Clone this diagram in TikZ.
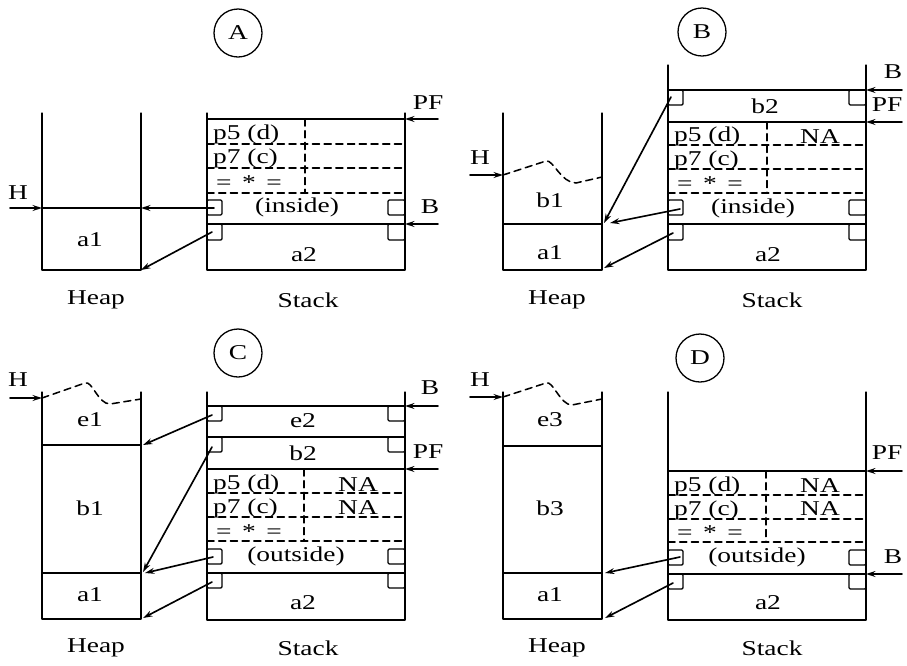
\documentclass[tikz,border=0pt]{standalone}
\usepackage{fontspec}
\setmainfont{Liberation Serif}[FakeStretch=1.3]
\usetikzlibrary{arrows.meta}
\tikzset{
  wall/.style={line width=1.1pt},
  row/.style={line width=1.6pt},
  sep/.style={line width=1.3pt, dash pattern=on 6pt off 4pt},
  ptr/.style={line width=1.4pt, -{Stealth[length=8pt,width=5pt]}},
  box/.style={line width=1.1pt, rounded corners=1pt},
  tag/.style={draw, circle, line width=1.1pt, minimum size=1.44cm, inner sep=0pt},
}
\begin{document}
\begin{tikzpicture}[x=.03cm, y=-.03cm, font=\fontsize{18}{21}\selectfont, line join=round, line cap=round]
\useasboundingbox (0,0) rectangle (907,665);
%% A
\node[tag] (tA) at (238,33) {A};
\draw[wall] (42,113) -- (42,270) -- (141,270) -- (141,113);
\draw[row] (42,208) -- (141,208);
\node (a1A) at (90,240) {a1};
\node (hpA) at (96,300) {Heap};
\draw[wall] (207,113) -- (207,270) -- (405,270) -- (405,113);
\draw[row] (207,119) -- (405,119) (207,224) -- (405,224);
\draw[sep] (207,144) -- (405,144) (207,168) -- (405,168) (207,193) -- (405,193) (305,119) -- (305,193);
\draw[box] (207,200) rectangle (222,215) (388,200) rectangle (405,215)
  (207,224) rectangle (222,240) (388,224) rectangle (405,240);
\node[anchor=west] (p5A) at (209,134) {p5 (d)};
\node[anchor=west] (p7A) at (209,158) {p7 (c)};
\node[anchor=west] (eqA) at (212,183) {=\enspace*\enspace=};
\node (inA) at (297,207) {(inside)};
\node (a2A) at (304,255) {a2};
\node (stA) at (308,300) {Stack};
\node (HA) at (18,193) {H};
\node (PFA) at (428,103) {PF};
\node (BA) at (430,207) {B};
\coordinate (hA0) at (10,208); \coordinate (hA) at (42,208);
\coordinate (pfA0) at (438,119); \coordinate (pfA) at (405,119);
\coordinate (bA0) at (438,224); \coordinate (bA) at (405,224);
\coordinate (sA1) at (214,208); \coordinate (eA1) at (141,208);
\coordinate (sA2) at (212,232); \coordinate (eA2) at (141,270);
\draw[ptr] (hA0) -- (hA);
\draw[ptr] (pfA0) -- (pfA);
\draw[ptr] (bA0) -- (bA);
\draw[ptr] (sA1) -- (eA1);
\draw[ptr] (sA2) -- (eA2);
%% B
\begin{scope}[shift={(461,0)}]
\node[tag] (tB) at (241,32) {B};
\draw[wall] (42,113) -- (42,270) -- (141,270) -- (141,113);
\draw[row] (42,224) -- (141,224);
\draw[sep] (42,175) -- (85,161) .. controls (92,159) and (100,183) .. (115,183) -- (141,177);
\node (b1B) at (89,200) {b1};
\node (a1B) at (89,253) {a1};
\node (hpB) at (96,300) {Heap};
\draw[wall] (207,65) -- (207,270) -- (405,270) -- (405,65);
\draw[row] (207,90) -- (405,90) (207,122) -- (405,122) (207,224) -- (405,224);
\draw[sep] (207,145) -- (405,145) (207,169) -- (405,169) (207,193) -- (405,193) (306,122) -- (306,193);
\draw[box] (207,90) rectangle (222,105) (388,90) rectangle (405,105)
  (207,200) rectangle (222,215) (388,200) rectangle (405,215)
  (207,224) rectangle (222,240) (388,224) rectangle (405,240);
\node (b2B) at (304,106) {b2};
\node[anchor=west] (p5B) at (209,136) {p5 (d)};
\node[anchor=west] (p7B) at (209,160) {p7 (c)};
\node[anchor=west] (eqB) at (212,184) {=\enspace*\enspace=};
\node (naB) at (359,137) {NA};
\node (inB) at (292,208) {(inside)};
\node (a2B) at (307,255) {a2};
\node (stB) at (311,300) {Stack};
\node (HB) at (19,158) {H};
\node (BB) at (432,72) {B};
\node (PFB) at (426,105) {PF};
\coordinate (hB0) at (9,175); \coordinate (hB) at (42,175);
\coordinate (bB0) at (441,90); \coordinate (bB) at (405,90);
\coordinate (pfB0) at (441,122); \coordinate (pfB) at (405,122);
\coordinate (sB1) at (210,97); \coordinate (eB1) at (143,223);
\coordinate (sB2) at (219,209); \coordinate (eB2) at (149,223);
\coordinate (sB3) at (212,233); \coordinate (eB3) at (143,268);
\draw[ptr] (hB0) -- (hB);
\draw[ptr] (bB0) -- (bB);
\draw[ptr] (pfB0) -- (pfB);
\draw[ptr] (sB1) -- (eB1);
\draw[ptr] (sB2) -- (eB2);
\draw[ptr] (sB3) -- (eB3);
\end{scope}
%% C
\node[tag] (tC) at (238,353) {C};
\draw[wall] (42,392) -- (42,619) -- (141,619) -- (141,392);
\draw[row] (42,445) -- (141,445) (42,573) -- (141,573);
\draw[sep] (42,398) -- (85,383) .. controls (92,380) and (98,404) .. (110,404) -- (141,399);
\node (e1C) at (90,420) {e1};
\node (b1C) at (90,508) {b1};
\node (a1C) at (90,595) {a1};
\node (hpC) at (96,648) {Heap};
\draw[wall] (207,392) -- (207,620) -- (405,620) -- (405,392);
\draw[row] (207,406) -- (405,406) (207,437) -- (405,437) (207,469) -- (405,469) (207,573) -- (405,573);
\draw[sep] (207,493) -- (405,493) (207,517) -- (405,517) (207,541) -- (405,541) (304,469) -- (304,541);
\draw[box] (207,406) rectangle (222,421) (388,406) rectangle (405,421)
  (207,437) rectangle (222,452) (388,437) rectangle (405,452)
  (207,549) rectangle (222,564) (388,549) rectangle (405,564)
  (207,573) rectangle (222,588) (388,573) rectangle (405,588);
\node (e2C) at (303,421) {e2};
\node (b2C) at (303,453) {b2};
\node[anchor=west] (p5C) at (209,484) {p5 (d)};
\node[anchor=west] (p7C) at (209,508) {p7 (c)};
\node[anchor=west] (eqC) at (212,532) {=\enspace*\enspace=};
\node (na1C) at (358,485) {NA};
\node (na2C) at (358,508) {NA};
\node (ouC) at (296,556) {(outside)};
\node (a2C) at (303,603) {a2};
\node (stC) at (308,648) {Stack};
\node (HC) at (18,380) {H};
\node (BC) at (430,388) {B};
\node (PFC) at (428,452) {PF};
\coordinate (hC0) at (10,398); \coordinate (hC) at (42,398);
\coordinate (bC0) at (438,406); \coordinate (bC) at (405,406);
\coordinate (pfC0) at (438,469); \coordinate (pfC) at (405,469);
\coordinate (sC1) at (212,415); \coordinate (eC1) at (143,445);
\coordinate (sC2) at (212,447); \coordinate (eC2) at (143,572);
\coordinate (sC3) at (213,557); \coordinate (eC3) at (145,573);
\coordinate (sC4) at (212,582); \coordinate (eC4) at (143,618);
\draw[ptr] (hC0) -- (hC);
\draw[ptr] (bC0) -- (bC);
\draw[ptr] (pfC0) -- (pfC);
\draw[ptr] (sC1) -- (eC1);
\draw[ptr] (sC2) -- (eC2);
\draw[ptr] (sC3) -- (eC3);
\draw[ptr] (sC4) -- (eC4);
%% D
\begin{scope}[shift={(461,0)}]
\node[tag] (tD) at (239,358) {D};
\draw[wall] (42,392) -- (42,619) -- (141,619) -- (141,392);
\draw[row] (42,446) -- (141,446) (42,573) -- (141,573);
\draw[sep] (42,397) -- (85,383) .. controls (92,380) and (99,405) .. (111,405) -- (141,399);
\node (e3D) at (89,420) {e3};
\node (b3D) at (89,508) {b3};
\node (a1D) at (89,595) {a1};
\node (hpD) at (96,648) {Heap};
\draw[wall] (207,392) -- (207,620) -- (405,620) -- (405,392);
\draw[row] (207,471) -- (405,471) (207,574) -- (405,574);
\draw[sep] (207,495) -- (405,495) (207,519) -- (405,519) (207,542) -- (405,542) (305,471) -- (305,542);
\draw[box] (207,550) rectangle (222,565) (388,550) rectangle (405,565)
  (207,574) rectangle (222,589) (388,574) rectangle (405,589);
\node[anchor=west] (p5D) at (209,486) {p5 (d)};
\node[anchor=west] (p7D) at (209,510) {p7 (c)};
\node[anchor=west] (eqD) at (212,533) {=\enspace*\enspace=};
\node (na1D) at (359,486) {NA};
\node (na2D) at (359,509) {NA};
\node (ouD) at (296,557) {(outside)};
\node (a2D) at (307,603) {a2};
\node (stD) at (311,648) {Stack};
\node (HD) at (19,380) {H};
\node (PFD) at (426,453) {PF};
\node (BD) at (432,557) {B};
\coordinate (hD0) at (9,397); \coordinate (hD) at (42,397);
\coordinate (pfD0) at (441,471); \coordinate (pfD) at (405,471);
\coordinate (bD0) at (441,574); \coordinate (bD) at (405,574);
\coordinate (sD1) at (219,557); \coordinate (eD1) at (144,573);
\coordinate (sD2) at (212,583); \coordinate (eD2) at (144,618);
\draw[ptr] (hD0) -- (hD);
\draw[ptr] (pfD0) -- (pfD);
\draw[ptr] (bD0) -- (bD);
\draw[ptr] (sD1) -- (eD1);
\draw[ptr] (sD2) -- (eD2);
\end{scope}
\end{tikzpicture}
\end{document}
